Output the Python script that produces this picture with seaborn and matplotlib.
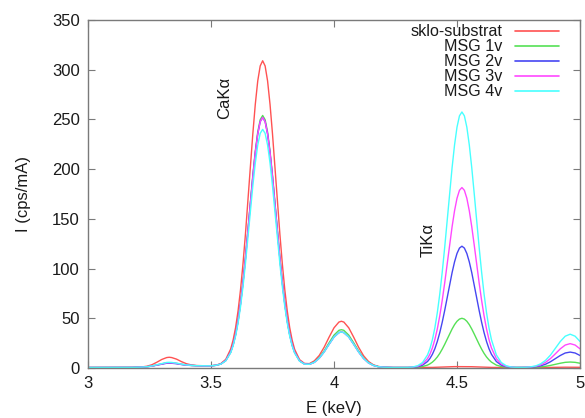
import matplotlib
matplotlib.use("Agg")
import matplotlib.pyplot as plt
from matplotlib.lines import Line2D
from matplotlib.offsetbox import (AnchoredOffsetbox, DrawingArea, HPacker,
                                  TextArea, VPacker)
import pandas as pd
import seaborn as sns

# Energy channels (keV); finer sampling across the two main peaks
energy_kev = [
    3.00, 3.02, 3.04, 3.06, 3.08, 3.10, 3.12, 3.14, 3.16, 3.18, 3.20, 3.22, 3.24,
    3.26, 3.28, 3.30, 3.32,
    3.33,
    3.34, 3.36, 3.38, 3.40, 3.42, 3.44, 3.46, 3.48, 3.50, 3.52, 3.54, 3.56, 3.58,
    3.59, 3.60, 3.61, 3.62, 3.63, 3.64, 3.65, 3.66, 3.67, 3.68, 3.69, 3.70, 3.71,
    3.72, 3.73, 3.74, 3.75, 3.76, 3.77, 3.78, 3.79, 3.80, 3.81, 3.82, 3.83,
    3.84, 3.86, 3.88, 3.90, 3.92, 3.94, 3.96, 3.98, 4.00, 4.02,
    4.03,
    4.04, 4.06, 4.08, 4.10, 4.12, 4.14, 4.16, 4.18, 4.20, 4.22, 4.24, 4.26, 4.28,
    4.30, 4.32, 4.34, 4.36, 4.38,
    4.39, 4.40, 4.41, 4.42, 4.43, 4.44, 4.45, 4.46, 4.47, 4.48, 4.49, 4.50, 4.51,
    4.52, 4.53, 4.54, 4.55, 4.56, 4.57, 4.58, 4.59, 4.60, 4.61, 4.62, 4.63,
    4.64, 4.66, 4.68, 4.70, 4.72, 4.74, 4.76, 4.78, 4.80, 4.82, 4.84, 4.86, 4.88,
    4.90, 4.92, 4.94, 4.96, 4.98, 5.00,
]

# Intensities (cps/mA) for each sample
sklo_substrat = [
    0.5, 0.5, 0.5, 0.5, 0.5, 0.5, 0.5, 0.5, 0.5, 0.6, 0.8, 1.1, 1.8, 3.3, 5.8, 8.6, 10.5,
    10.8,
    10.5, 8.9, 6.4, 4.3, 3.1, 2.5, 2.3, 2.2, 2.2, 2.8, 4.4, 8.7, 19.1,
    28.2, 40.7, 57.4, 78.7, 104.6, 134.6, 167.7, 202.1, 235.4, 265.1, 288.7, 303.8, 309.0,
    303.8, 288.7, 265.1, 235.4, 202.1, 167.7, 134.6, 104.6, 78.7, 57.4, 40.5, 27.9,
    18.8, 8.4, 4.6, 4.4, 7.2, 12.6, 20.9, 31.0, 40.4, 46.2,
    47.0,
    46.2, 40.4, 31.0, 20.9, 12.4, 6.6, 3.2, 1.6, 0.8, 0.6, 0.5, 0.5, 0.5, 0.5, 0.5, 0.5, 0.5, 0.5,
    0.6, 0.6, 0.7, 0.7, 0.8, 0.9, 1.0, 1.1, 1.2, 1.3, 1.4, 1.4, 1.5,
    1.5, 1.5, 1.4, 1.4, 1.3, 1.2, 1.1, 1.0, 0.9, 0.8, 0.7, 0.7,
    0.6, 0.5, 0.5, 0.5, 0.5, 0.5, 0.5, 0.5, 0.5, 0.5, 0.5, 0.6, 0.6, 0.7, 0.7, 0.8, 0.8, 0.8, 0.7,
]

msg_1v = [
    0.5, 0.5, 0.5, 0.5, 0.5, 0.5, 0.5, 0.5, 0.5, 0.6, 0.7, 0.9, 1.3, 2.0, 3.1, 4.3, 5.2,
    5.3,
    5.2, 4.6, 3.7, 3.0, 2.6, 2.3, 2.2, 2.2, 2.2, 2.7, 4.0, 7.5, 16.1,
    23.5, 33.8, 47.5, 65.0, 86.2, 110.9, 138.0, 166.2, 193.6, 218.0, 237.3, 249.7, 254.0,
    249.7, 237.3, 218.0, 193.6, 166.2, 138.0, 110.9, 86.2, 65.0, 47.5, 33.6, 23.2,
    15.8, 7.2, 4.0, 3.9, 6.0, 10.5, 17.2, 25.4, 33.1, 37.9,
    38.5,
    37.9, 33.1, 25.4, 17.2, 10.3, 5.5, 2.8, 1.4, 0.8, 0.6, 0.5, 0.5, 0.5, 0.5, 0.5, 0.8, 1.5, 2.9,
    4.2, 5.9, 8.2, 11.1, 14.7, 19.0, 23.8, 28.9, 34.2, 39.2, 43.6, 47.0, 49.2,
    50.0, 49.2, 47.0, 43.6, 39.2, 34.2, 28.9, 23.8, 19.0, 14.7, 11.1, 8.2,
    5.9, 2.9, 1.5, 0.8, 0.5, 0.5, 0.5, 0.5, 0.6, 0.8, 1.1, 1.7, 2.6, 3.7, 4.8, 5.7, 6.0, 5.7, 4.8,
]

msg_2v = [
    0.5, 0.5, 0.5, 0.5, 0.5, 0.5, 0.5, 0.5, 0.5, 0.6, 0.7, 0.9, 1.3, 1.9, 2.9, 4.0, 4.8,
    4.9,
    4.8, 4.3, 3.5, 2.9, 2.5, 2.3, 2.2, 2.2, 2.2, 2.7, 4.0, 7.5, 16.0,
    23.4, 33.6, 47.2, 64.5, 85.6, 110.0, 136.9, 164.9, 192.1, 216.3, 235.4, 247.8, 252.0,
    247.8, 235.4, 216.3, 192.1, 164.9, 136.9, 110.0, 85.6, 64.5, 47.2, 33.4, 23.1,
    15.7, 7.2, 4.0, 3.7, 5.7, 9.9, 16.2, 23.9, 31.2, 35.6,
    36.2,
    35.6, 31.2, 23.9, 16.2, 9.7, 5.2, 2.6, 1.3, 0.8, 0.6, 0.5, 0.5, 0.5, 0.5, 0.8, 1.3, 2.9, 6.5,
    9.6, 13.8, 19.4, 26.7, 35.6, 46.1, 57.9, 70.6, 83.5, 95.9, 106.7, 115.2, 120.6,
    122.5, 120.6, 115.2, 106.7, 95.9, 83.5, 70.6, 57.9, 46.1, 35.6, 26.7, 19.4,
    13.8, 6.5, 2.9, 1.3, 0.8, 0.5, 0.5, 0.6, 0.8, 1.3, 2.2, 3.8, 6.3, 9.4, 12.6, 15.1, 16.0, 15.1, 12.6,
]

msg_3v = [
    0.5, 0.5, 0.5, 0.5, 0.5, 0.5, 0.5, 0.5, 0.5, 0.6, 0.7, 0.9, 1.3, 2.0, 3.1, 4.3, 5.2,
    5.3,
    5.2, 4.6, 3.7, 3.0, 2.6, 2.3, 2.2, 2.2, 2.2, 2.7, 4.0, 7.5, 16.0,
    23.4, 33.6, 47.2, 64.5, 85.6, 110.0, 136.9, 164.9, 192.1, 216.3, 235.4, 247.8, 252.0,
    247.8, 235.4, 216.3, 192.1, 164.9, 136.9, 110.0, 85.6, 64.5, 47.2, 33.4, 23.1,
    15.7, 7.2, 4.0, 3.7, 5.7, 9.9, 16.2, 23.9, 31.2, 35.6,
    36.2,
    35.6, 31.2, 23.9, 16.2, 9.7, 5.2, 2.6, 1.3, 0.8, 0.6, 0.5, 0.5, 0.5, 0.5, 0.9, 1.7, 4.0, 9.4,
    13.9, 20.2, 28.6, 39.3, 52.5, 68.1, 85.6, 104.5, 123.7, 142.0, 158.1, 170.7, 178.7,
    181.5, 178.7, 170.7, 158.1, 142.0, 123.7, 104.5, 85.6, 68.1, 52.5, 39.3, 28.6,
    20.2, 9.4, 4.0, 1.7, 0.9, 0.5, 0.5, 0.7, 1.0, 1.7, 3.1, 5.7, 9.5, 14.3, 19.3, 23.1, 24.5, 23.1, 19.3,
]

msg_4v = [
    0.5, 0.5, 0.5, 0.5, 0.5, 0.5, 0.5, 0.5, 0.5, 0.6, 0.7, 0.9, 1.3, 2.1, 3.3, 4.6, 5.6,
    5.7,
    5.6, 4.9, 3.9, 3.1, 2.6, 2.3, 2.2, 2.2, 2.2, 2.7, 3.9, 7.2, 15.3,
    22.3, 32.1, 45.0, 61.5, 81.6, 104.8, 130.5, 157.1, 183.0, 206.0, 224.2, 236.0, 240.0,
    236.0, 224.2, 206.0, 183.0, 157.1, 130.5, 104.8, 81.6, 61.5, 45.0, 31.9, 22.0,
    15.0, 6.9, 3.9, 3.7, 5.7, 9.9, 16.2, 23.9, 31.2, 35.6,
    36.2,
    35.6, 31.2, 23.9, 16.2, 9.7, 5.2, 2.6, 1.3, 0.8, 0.6, 0.5, 0.5, 0.5, 0.6, 1.0, 2.3, 5.5, 13.1,
    19.6, 28.5, 40.4, 55.7, 74.4, 96.5, 121.4, 148.2, 175.4, 201.4, 224.3, 242.2, 253.6,
    257.5, 253.6, 242.2, 224.3, 201.4, 175.4, 148.2, 121.4, 96.5, 74.4, 55.7, 40.4,
    28.5, 13.1, 5.5, 2.3, 1.0, 0.6, 0.6, 0.7, 1.2, 2.1, 4.2, 7.7, 13.0, 19.8, 26.7, 32.0, 34.0, 32.0, 26.7,
]

series_names = ["sklo-substrat", "MSG 1v", "MSG 2v", "MSG 3v", "MSG 4v"]
series_values = [sklo_substrat, msg_1v, msg_2v, msg_3v, msg_4v]
series_colors = ["#ff5252", "#55e055", "#4646f2", "#ff48ff", "#48ffff"]

x_ticks = [3, 3.5, 4, 4.5, 5]
x_tick_labels = ["3", "3.5", "4", "4.5", "5"]
y_ticks = [0, 50, 100, 150, 200, 250, 300, 350]

line_labels = ["CaKα", "TiKα"]
line_label_x = [3.554, 4.384]
line_label_y = [272, 129]

sns.set_theme(style="ticks")
plt.rcParams["font.family"] = ["Liberation Sans", "DejaVu Sans"]

frames = [
    pd.DataFrame({"E": energy_kev, "I": vals, "sample": name})
    for name, vals in zip(series_names, series_values)
]
df = pd.concat(frames, ignore_index=True)

fs = 12
key_fs = 11.6
text_color = "#1a1a1a"
frame_color = "#7a7a7a"

fig = plt.figure(figsize=(5.85, 4.18), dpi=100)
ax = fig.add_axes([88 / 585, 50 / 418, 492 / 585, 348 / 418])

sns.lineplot(
    data=df, x="E", y="I", hue="sample", hue_order=series_names,
    palette=dict(zip(series_names, series_colors)),
    estimator=None, sort=False, linewidth=1.0, ax=ax, legend=False,
)

ax.set_xlim(3, 5)
ax.set_ylim(0, 350)
ax.set_xticks(x_ticks)
ax.set_xticklabels(x_tick_labels)
ax.set_yticks(y_ticks)
ax.tick_params(direction="in", length=5, width=0.8, color=frame_color,
               top=True, right=True, labelsize=fs, labelcolor=text_color, pad=6)
for sp in ax.spines.values():
    sp.set_color(frame_color)
    sp.set_linewidth(1.0)

ax.set_xlabel("E (keV)", fontsize=fs, color=text_color, labelpad=7)
ax.set_ylabel("I (cps/mA)", fontsize=fs, color=text_color, labelpad=15)

for lbl, lx, ly in zip(line_labels, line_label_x, line_label_y):
    ax.text(lx, ly, lbl, rotation=90, ha="center", va="center",
            fontsize=fs, color=text_color)

# key: right-aligned labels followed by a line sample
rows = []
for name, color in zip(series_names, series_colors):
    label = TextArea(name, textprops=dict(fontsize=key_fs, color=text_color))
    sample = DrawingArea(31.7, 8, 0, 0)
    sample.add_artist(Line2D([0, 31.7], [4, 4], color=color, lw=1.2))
    rows.append(HPacker(children=[label, sample], align="center", pad=0, sep=8.6))
key = VPacker(children=rows, align="right", pad=0, sep=0)
anchored = AnchoredOffsetbox(loc="upper right", child=key, frameon=False,
                             bbox_to_anchor=(0.957, 0.989),
                             bbox_transform=ax.transAxes, borderpad=0, pad=0)
ax.add_artist(anchored)

fig.savefig("out.png", dpi=100)
